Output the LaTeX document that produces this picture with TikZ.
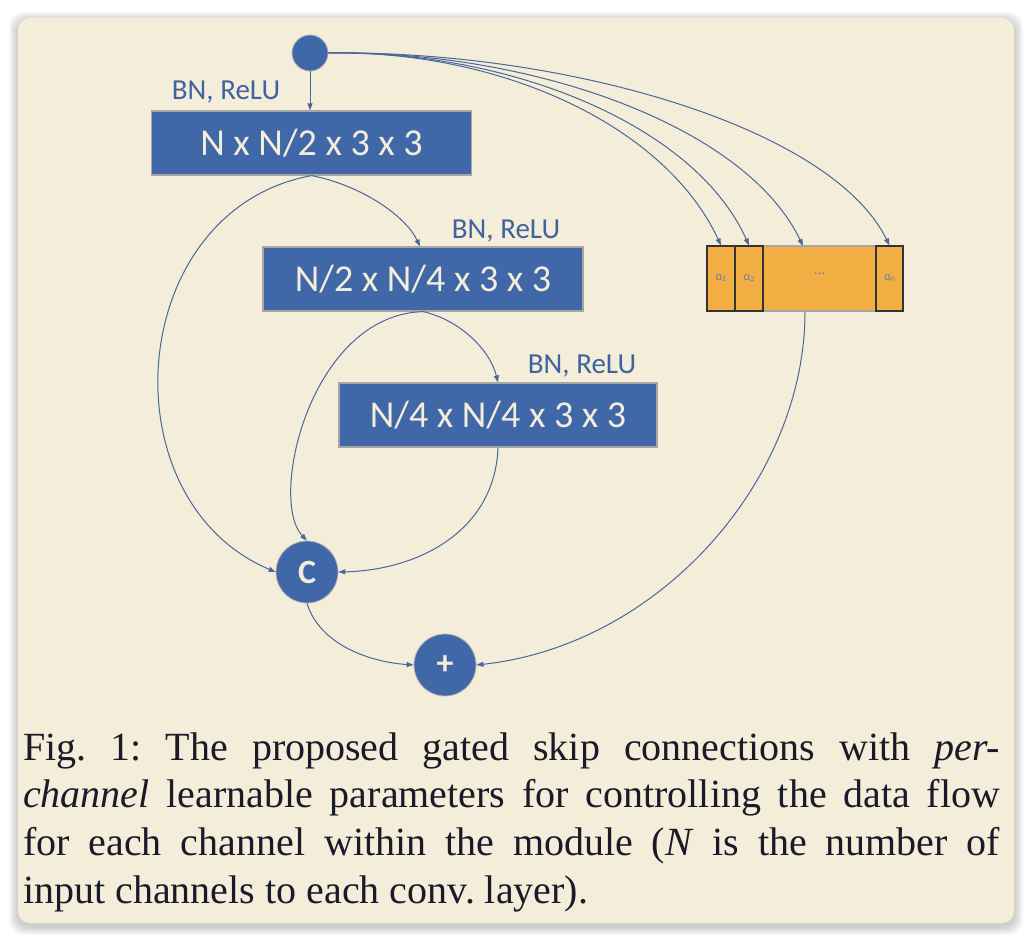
\documentclass[tikz,border=0pt]{standalone}
\usepackage{fontspec}
\setmainfont{Liberation Serif}
\newfontfamily\carl{Carlito}
\usetikzlibrary{arrows.meta}
\definecolor{panel}{HTML}{F3EDDA}
\definecolor{nblue}{HTML}{4068A8}
\definecolor{lblue}{HTML}{3F62A0}
\definecolor{cream}{HTML}{F3EDDA}
\definecolor{orng}{HTML}{F2AE42}
\definecolor{capt}{HTML}{1A1A28}
\definecolor{edge}{HTML}{4A679A}
\definecolor{cellt}{HTML}{6A80B0}
\frenchspacing
\begin{document}
\begin{tikzpicture}[x=1pt,y=-1pt,
  conv/.style={draw=gray!70, line width=1.2pt, fill=nblue, text=cream,
    font=\carl\fontsize{38}{40}\selectfont, inner sep=0pt, minimum height=64pt},
  dot/.style={circle, draw=gray!60, line width=0.8pt, fill=nblue, text=cream,
    font=\carl\bfseries\fontsize{34}{36}\selectfont, inner sep=0pt},
  lab/.style={text=lblue, font=\carl\fontsize{29}{30}\selectfont, inner sep=0pt},
  cell/.style={draw=black!80, line width=1.2pt, fill=orng, inner sep=0pt,
    minimum height=65pt, text=cellt, font=\carl\fontsize{12}{12}\selectfont},
  arr/.style={draw=edge, line width=1pt, -{Triangle[length=7pt,width=5pt]}},
  capl/.style={anchor=base west, inner sep=0pt, text=capt, font=\fontsize{40}{48}\selectfont}
]
\useasboundingbox (0,0) rectangle (1032,942);
% shadow and panel
\foreach \i in {1,...,9}{
  \fill[black, opacity=0.025, rounded corners=14pt] (18-\i,18-\i+3) rectangle (1014+\i,923+\i+3);
}
\fill[panel, rounded corners=12pt] (18,18) rectangle (1014,923);

% nodes
\node[dot, minimum size=36pt] (top) at (310,53) {};
\node[conv, minimum width=320pt] (b1) at (311.5,143) {N x N/2 x 3 x 3};
\node[conv, minimum width=320pt] (b2) at (423,279) {N/2 x N/4 x 3 x 3};
\node[conv, minimum width=318pt] (b3) at (498,415) {N/4 x N/4 x 3 x 3};
\node[lab] (l1) at (226,92) {BN, ReLU};
\node[lab] (l2) at (506,231) {BN, ReLU};
\node[lab] (l3) at (582,366) {BN, ReLU};
\node[dot, minimum size=62pt] (C) at (307,572) {C};
\node[dot, minimum size=62pt] (P) at (445,665) {+};

\node[draw=gray!70, line width=1.2pt, fill=orng, minimum width=196pt, minimum height=65pt, inner sep=0pt] (gate) at (805,278.5) {};
\node[cell, minimum width=28pt] (a1) at (721,278.5) {α\raisebox{-1pt}{\fontsize{8}{8}\selectfont 1}};
\node[cell, minimum width=28pt] (a2) at (749,278.5) {α\raisebox{-1pt}{\fontsize{8}{8}\selectfont 2}};
\node[inner sep=0pt, text=cellt, font=\carl\fontsize{15}{15}\selectfont] (mid) at (819.5,274) {...};
\node[cell, minimum width=27pt] (an) at (889.5,278.5) {α\raisebox{-1pt}{\fontsize{8}{8}\selectfont n}};
\coordinate (mtop) at (803,246);

% connectors
\draw[arr] (top.south) -- (top.south |- b1.north);
\draw[arr] (top.east) .. controls (500,50) and (665,125) .. (a1.north);
\draw[arr] (top.east) .. controls (510,50) and (695,125) .. (a2.north);
\draw[arr] (top.east) .. controls (530,50) and (745,125) .. (mtop);
\draw[arr] (top.east) .. controls (560,50) and (830,125) .. (an.north);

\draw[arr] (b1.south) .. controls (360,185) and (405,215) .. ([xshift=-3pt]b2.north);
\draw[arr] (b1.south) .. controls (125,210) and (105,500) .. (C.west);
\draw[arr] (b2.south) .. controls (310,315) and (268,500) .. (C.north);
\draw[arr] (b2.south) .. controls (460,320) and (490,350) .. (b3.north);
\draw[arr] (b3.south) .. controls (495,530) and (420,570) .. (C.east);
\draw[arr] (C.south) .. controls (320,645) and (370,662) .. (P.west);
\draw[arr] (gate.south) .. controls (805,480) and (660,645) .. (P.east);

% caption
\node[capl] (c1) at (23,760) {\makebox[977pt][s]{Fig. 1: The proposed gated skip connections with \textit{per-}}};
\node[capl] (c2) at (23,807) {\makebox[977pt][s]{\textit{channel} learnable parameters for controlling the data flow}};
\node[capl] (c3) at (23,855) {\makebox[977pt][s]{for each channel within the module (\textit{N} is the number of}};
\node[capl] (c4) at (23,903) {input channels to each conv. layer).};
\end{tikzpicture}
\end{document}
